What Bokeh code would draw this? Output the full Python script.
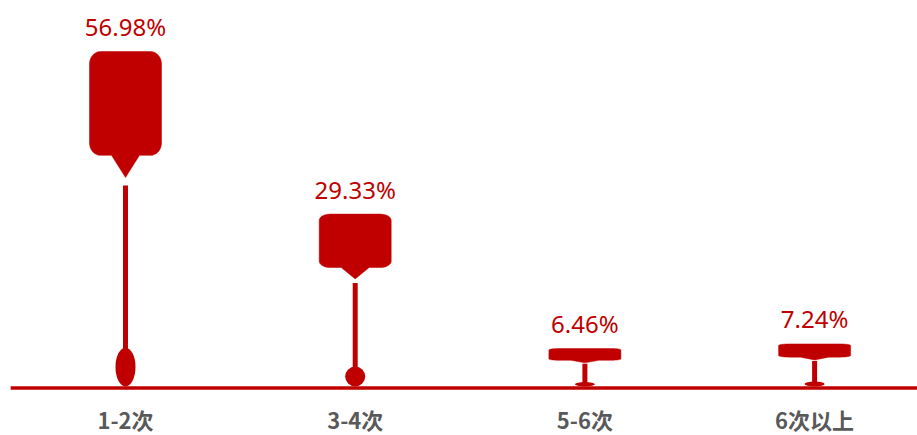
import numpy as np
from bokeh.plotting import figure
from bokeh.models import ColumnDataSource
from bokeh.core.properties import value
from bokeh.embed import file_html
from bokeh.resources import INLINE

# ---- data ----
categories = ["1-2次", "3-4次", "5-6次", "6次以上"]
percents = [56.98, 29.33, 6.46, 7.24]
labels = ["56.98%", "29.33%", "6.46%", "7.24%"]

RED = "#C00000"
PX_PER_CAT = 229.7   # screen px per category unit
PX_PER_PCT = 5.879   # screen px per percent
W, H = 917, 435
X0_PX, Y0_PX = 125.0, 386.0   # where category 0 / value 0 sit on the canvas

x_start = -X0_PX / PX_PER_CAT
y_start = -(H - Y0_PX) / PX_PER_PCT
p = figure(width=W, height=H, output_backend="svg", toolbar_location=None,
           x_range=(x_start, x_start + W / PX_PER_CAT),
           y_range=(y_start, y_start + H / PX_PER_PCT),
           min_border=0, min_border_left=0, min_border_right=0,
           min_border_top=0, min_border_bottom=0)
p.outline_line_color = None
p.grid.visible = False
p.axis.visible = False
p.background_fill_color = "white"

xs = list(range(len(categories)))

# ---- head (rounded callout with pointer) ----
def head_polygon(cx, h):
    hw, ru, rv = 36.0, 11.0, 0.037
    vb, vt = 0.69, 1.0
    pts = []
    def arc(cu, cv, a0, a1):
        for a in np.linspace(np.radians(a0), np.radians(a1), 10):
            pts.append((cu + ru * np.cos(a), cv + rv * np.sin(a)))
    arc(hw - ru, vt - rv, 90, 0)
    arc(hw - ru, vb + rv, 0, -90)
    pts += [(14, vb), (0, 0.624), (-14, vb)]
    arc(-hw + ru, vb + rv, -90, -180)
    arc(-hw + ru, vt - rv, 180, 90)
    return [cx + u / PX_PER_CAT for u, v in pts], [v * h for u, v in pts]

hx, hy = [], []
for i, v in zip(xs, percents):
    a, b = head_polygon(i, v)
    hx.append(a)
    hy.append(b)
p.patches(hx, hy, fill_color=RED, line_color=RED, line_width=0.5)

# ---- stem ----
p.vbar(x=xs, width=5 / PX_PER_CAT, top=[0.60 * v for v in percents],
       bottom=[0.06 * v for v in percents], fill_color=RED, line_color=None)

# ---- base ellipse ----
p.ellipse(x=xs, y=[0.058 * v for v in percents], width=20 / PX_PER_CAT,
          height=[0.116 * v for v in percents], fill_color=RED, line_color=None)

# ---- baseline (category axis line) ----
p.segment(x0=[xs[0] - 0.5], y0=[-1.5 / PX_PER_PCT], x1=[xs[-1] + 0.6],
          y1=[-1.5 / PX_PER_PCT], line_color=RED, line_width=3.5)

# ---- value labels ----
src = ColumnDataSource(dict(x=xs, y=percents, t=labels))
p.text(x="x", y="y", text="t", source=src, text_align="center",
       text_baseline="alphabetic", y_offset=-25, text_color=RED,
       text_font=value("Noto Sans"), text_font_size="24px")

# ---- category labels ----
csrc = ColumnDataSource(dict(x=xs, y=[0] * len(xs), t=categories))
p.text(x="x", y="y", text="t", source=csrc, text_align="center",
       text_baseline="middle", y_offset=32, text_color="#595959",
       text_font=value("Noto Sans CJK SC"), text_font_style="bold",
       text_font_size="22px")

open("out.html", "w").write(file_html(p, INLINE))
